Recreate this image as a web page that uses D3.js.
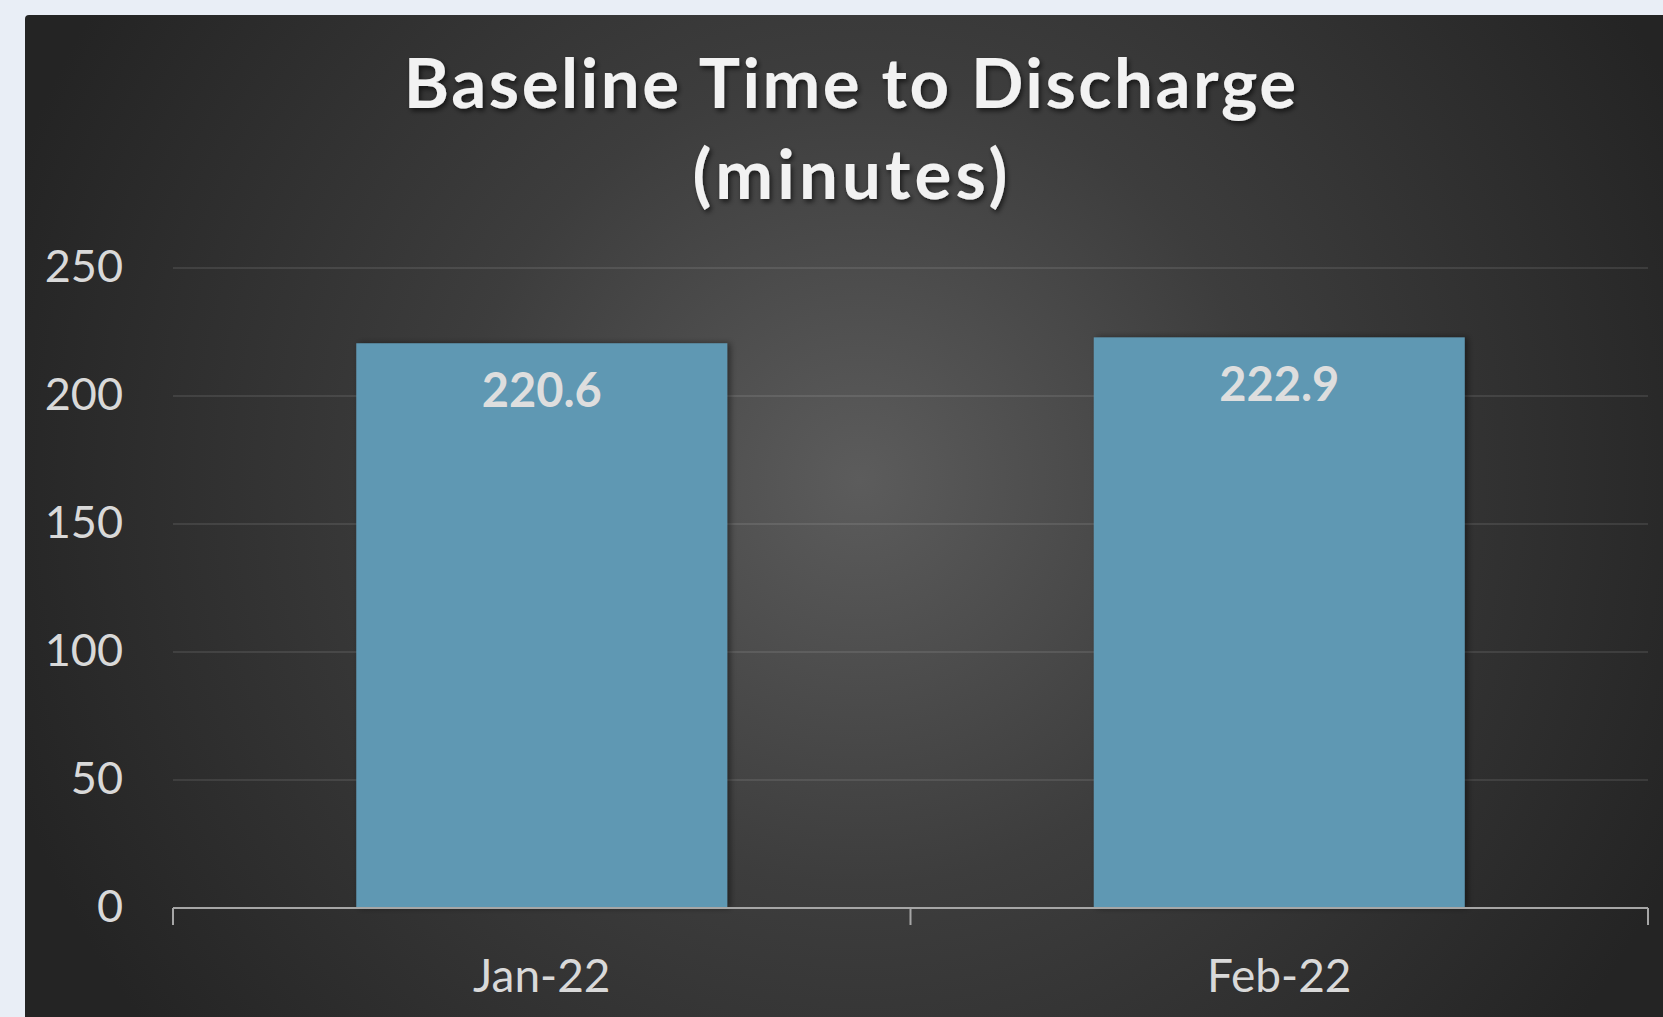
<!DOCTYPE html>
<html>
<head>
<meta charset="utf-8">
<script src="https://cdn.jsdelivr.net/npm/d3@7"></script>
<style>
  html, body { margin: 0; padding: 0; background: #e9eef6; overflow: hidden; }
  svg { display: block; }
</style>
</head>
<body>
<svg id="chart" width="1663" height="1017"></svg>
<script>
// Monthly baseline time to discharge, in minutes
const months = ["Jan-22", "Feb-22"];
const minutes = [220.6, 222.9];
const yTicks = [0, 50, 100, 150, 200, 250];
const titleLines = ["Baseline Time to Discharge", "(minutes)"];

const W = 1663, H = 1017;
const margin = { left: 173, right: 15, top: 268, bottom: 109 };
const svg = d3.select("#chart");
const defs = svg.append("defs");

// Dark panel with a soft radial glow toward the middle
const glow = defs.append("radialGradient")
  .attr("id", "panelGlow")
  .attr("gradientUnits", "userSpaceOnUse")
  .attr("cx", 860).attr("cy", 480).attr("r", 900);
glow.append("stop").attr("offset", "0%").attr("stop-color", "#5c5c5c");
glow.append("stop").attr("offset", "45%").attr("stop-color", "#3d3d3d");
glow.append("stop").attr("offset", "100%").attr("stop-color", "#242424");

const titleShadow = defs.append("filter").attr("id", "titleShadow")
  .attr("x", "-10%").attr("y", "-30%").attr("width", "120%").attr("height", "160%");
titleShadow.append("feDropShadow")
  .attr("dx", 2).attr("dy", 3).attr("stdDeviation", 2.5)
  .attr("flood-color", "#000").attr("flood-opacity", 0.6);

const barShadow = defs.append("filter").attr("id", "barShadow")
  .attr("x", "-5%").attr("y", "-5%").attr("width", "115%").attr("height", "110%");
barShadow.append("feDropShadow")
  .attr("dx", 3).attr("dy", 0).attr("stdDeviation", 3)
  .attr("flood-color", "#000").attr("flood-opacity", 0.45);

svg.append("rect")
  .attr("x", 25).attr("y", 15)
  .attr("width", W).attr("height", H)
  .attr("rx", 4)
  .attr("fill", "url(#panelGlow)");

// Scales
const x = d3.scaleBand()
  .domain(months)
  .range([margin.left, W - margin.right])
  .paddingInner(0.497)
  .paddingOuter(0.2485);

const y = d3.scaleLinear()
  .domain([0, 250])
  .range([H - margin.bottom, margin.top]);

// Horizontal gridlines
svg.append("g")
  .selectAll("line")
  .data(yTicks.filter(d => d > 0))
  .join("line")
  .attr("x1", margin.left).attr("x2", W - margin.right)
  .attr("y1", d => y(d)).attr("y2", d => y(d))
  .attr("stroke", "#ffffff").attr("stroke-opacity", 0.13)
  .attr("stroke-width", 1.5);

// Y axis labels (no axis line)
const yAxis = svg.append("g")
  .attr("transform", `translate(${margin.left - 50},0)`)
  .call(d3.axisLeft(y).tickValues(yTicks).tickSize(0).tickPadding(0).tickFormat(d3.format("d")));
yAxis.select(".domain").remove();
yAxis.selectAll("text")
  .attr("fill", "#d9d9d9")
  .attr("font-family", "Lato, 'Open Sans', sans-serif")
  .attr("font-size", 45)
  .attr("dy", "0.3em");

// Bars
svg.append("g")
  .selectAll("rect")
  .data(months)
  .join("rect")
  .attr("x", d => x(d))
  .attr("y", (d, i) => y(minutes[i]))
  .attr("width", x.bandwidth())
  .attr("height", (d, i) => y(0) - y(minutes[i]))
  .attr("fill", "#5e98b3")
  .attr("filter", "url(#barShadow)");

// Value labels inside the top of each bar
svg.append("g")
  .selectAll("text")
  .data(months)
  .join("text")
  .attr("x", d => x(d) + x.bandwidth() / 2)
  .attr("y", (d, i) => y(minutes[i]) + 64)
  .attr("text-anchor", "middle")
  .attr("fill", "#dedede")
  .attr("font-family", "Lato, 'Open Sans', sans-serif")
  .attr("font-weight", 700)
  .attr("font-size", 47)
  .text((d, i) => minutes[i].toFixed(1));

// X axis: baseline with divider ticks between categories
const step = x.step();
const dividers = [margin.left, margin.left + step, W - margin.right];
const xAxisG = svg.append("g");
xAxisG.append("line")
  .attr("x1", margin.left).attr("x2", W - margin.right)
  .attr("y1", y(0)).attr("y2", y(0))
  .attr("stroke", "#a6a6a6").attr("stroke-width", 2);
xAxisG.selectAll("line.div")
  .data(dividers)
  .join("line")
  .attr("class", "div")
  .attr("x1", d => d).attr("x2", d => d)
  .attr("y1", y(0)).attr("y2", y(0) + 17)
  .attr("stroke", "#a6a6a6").attr("stroke-width", 2);

const xAxis = svg.append("g")
  .attr("transform", `translate(0,${y(0)})`)
  .call(d3.axisBottom(x).tickSize(0).tickPadding(0));
xAxis.select(".domain").remove();
xAxis.selectAll("text")
  .attr("y", 84)
  .attr("dy", 0)
  .attr("fill", "#d9d9d9")
  .attr("font-family", "Lato, 'Open Sans', sans-serif")
  .attr("font-size", 46);

// Title, two centred lines with a drop shadow
const titleTargets = [895, 319];
const titleBaselines = [108, 199];
const title = svg.append("g").attr("filter", "url(#titleShadow)");
titleLines.forEach((line, i) => {
  const t = title.append("text")
    .attr("x", 850)
    .attr("y", titleBaselines[i])
    .attr("text-anchor", "middle")
    .attr("fill", "#f2f2f2")
    .attr("font-family", "Lato, 'Open Sans', sans-serif")
    .attr("font-weight", 700)
    .attr("font-size", 69)
    .text(line);
  const len = t.node().getComputedTextLength();
  const spacing = (titleTargets[i] - len) / line.length;
  t.attr("letter-spacing", spacing.toFixed(2))
   .attr("dx", (spacing / 2).toFixed(2));
});
</script>
</body>
</html>
